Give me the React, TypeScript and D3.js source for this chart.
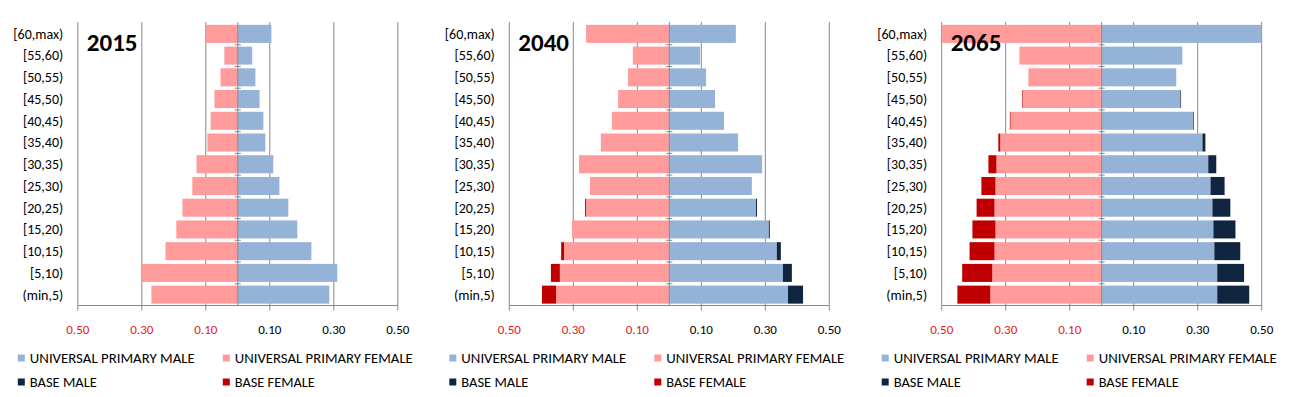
import * as d3 from 'd3'

const ageGroups = ['[60,max)', '[55,60)', '[50,55)', '[45,50)', '[40,45)', '[35,40)', '[30,35)', '[25,30)', '[20,25)', '[15,20)', '[10,15)', '[5,10)', '(min,5)']
const years = ['2015', '2040', '2065']
const xTicks = [-0.5, -0.3, -0.1, 0.1, 0.3, 0.5]

// share of population, read top row first
const upMale2015 = [0.105, 0.045, 0.055, 0.068, 0.080, 0.086, 0.111, 0.130, 0.158, 0.186, 0.230, 0.311, 0.286]
const upFemale2015 = [0.100, 0.042, 0.054, 0.073, 0.085, 0.095, 0.129, 0.142, 0.173, 0.192, 0.226, 0.301, 0.270]
const baseMale2015 = [0, 0, 0, 0, 0, 0, 0, 0, 0, 0, 0, 0, 0]
const baseFemale2015 = [0, 0, 0, 0, 0, 0, 0, 0, 0, 0, 0, 0, 0]

const upMale2040 = [0.208, 0.096, 0.115, 0.143, 0.171, 0.215, 0.290, 0.258, 0.271, 0.311, 0.336, 0.355, 0.371]
const upFemale2040 = [0.260, 0.114, 0.129, 0.160, 0.179, 0.214, 0.282, 0.248, 0.260, 0.304, 0.329, 0.342, 0.354]
const baseMale2040 = [0, 0, 0, 0, 0, 0, 0, 0, 0.003, 0.003, 0.0125, 0.028, 0.047]
const baseFemale2040 = [0, 0, 0, 0, 0, 0, 0, 0, 0.003, 0, 0.009, 0.028, 0.044]

const upMale2065 = [0.50, 0.252, 0.233, 0.246, 0.286, 0.315, 0.333, 0.340, 0.346, 0.349, 0.352, 0.361, 0.361]
const upFemale2065 = [0.50, 0.257, 0.229, 0.246, 0.285, 0.317, 0.329, 0.332, 0.335, 0.332, 0.335, 0.342, 0.348]
const baseMale2065 = [0, 0, 0, 0.002, 0.002, 0.009, 0.025, 0.044, 0.056, 0.069, 0.081, 0.084, 0.100]
const baseFemale2065 = [0, 0, 0, 0.002, 0.002, 0.006, 0.025, 0.044, 0.056, 0.072, 0.078, 0.094, 0.103]

const panels = [
  { year: years[0], upM: upMale2015, upF: upFemale2015, bM: baseMale2015, bF: baseFemale2015 },
  { year: years[1], upM: upMale2040, upF: upFemale2040, bM: baseMale2040, bF: baseFemale2040 },
  { year: years[2], upM: upMale2065, upF: upFemale2065, bM: baseMale2065, bF: baseFemale2065 },
]

const C = { upM: '#95b3d7', upF: '#ff9b9b', bM: '#10253f', bF: '#c00000', grid: '#888888' }
const FONT = 'Carlito, Calibri, Lato, sans-serif'
const legendItems = [
  { label: 'UNIVERSAL PRIMARY MALE', color: C.upM, col: 0, row: 0, len: 165 },
  { label: 'UNIVERSAL PRIMARY FEMALE', color: C.upF, col: 1, row: 0, len: 178 },
  { label: 'BASE MALE', color: C.bM, col: 0, row: 1, len: 67 },
  { label: 'BASE FEMALE', color: C.bF, col: 1, row: 1, len: 80 },
]

const PLOT_LEFT = [77.8, 509.3, 941.7]
const W = 320, TOP = 23, BOTTOM = 305.5

function Panel({ p, left, idx }: any) {
  const x = d3.scaleLinear().domain([-0.5, 0.5]).range([0, W])
  const y = d3.scaleBand().domain(ageGroups).range([TOP, BOTTOM]).paddingInner(0.17).paddingOuter(0.085)
  const rows = ageGroups.map((g, i) => ({ g, upM: p.upM[i], bM: p.bM[i], upF: p.upF[i], bF: p.bF[i] }))
  const male = d3.stack<any>().keys(['upM', 'bM'])(rows)
  const female = d3.stack<any>().keys(['upF', 'bF'])(rows)
  const clipId = `clip${idx}`
  const x0 = x(0)
  return (
    <g transform={`translate(${left},0)`}>
      <defs>
        <clipPath id={clipId}><rect x={0} y={TOP - 2} width={W} height={BOTTOM - TOP + 2} /></clipPath>
      </defs>
      {xTicks.map(t => (
        <line key={t} x1={x(t)} x2={x(t)} y1={TOP - 1} y2={BOTTOM} stroke={C.grid} strokeWidth={1} />
      ))}
      <g clipPath={`url(#${clipId})`}>
        {male.map(s => s.map((d: any, i) => (
          <rect key={s.key + i} x={x(d[0])} width={Math.max(0, x(d[1]) - x(d[0]))}
            y={y(ageGroups[i])} height={y.bandwidth()} fill={C[s.key as 'upM']} />
        )))}
        {female.map(s => s.map((d: any, i) => (
          <rect key={s.key + i} x={x(-d[1])} width={Math.max(0, x(-d[0]) - x(-d[1]))}
            y={y(ageGroups[i])} height={y.bandwidth()} fill={C[s.key as 'upF']} />
        )))}
      </g>
      <line x1={x0} x2={x0} y1={TOP - 1} y2={BOTTOM} stroke={C.grid} />
      {ageGroups.map((g, i) => i === 0 ? null : (
        <line key={g} x1={x0 - 3} x2={x0 + 3} y1={y(g)! - y.step() * 0.085} y2={y(g)! - y.step() * 0.085} stroke={C.grid} />
      ))}
      <line x1={0} x2={W} y1={BOTTOM} y2={BOTTOM} stroke={C.grid} />
      {xTicks.map(t => (
        <g key={'t' + t}>
          <line x1={x(t)} x2={x(t)} y1={BOTTOM} y2={BOTTOM + 5} stroke={C.grid} />
          <text x={x(t)} y={329} dy="0.35em" textAnchor="middle" fontSize={13} fontFamily={FONT}
            fill={t < 0 ? '#e8141e' : '#000'}>{d3.format('.2f')(Math.abs(t))}</text>
        </g>
      ))}
      {ageGroups.map(g => (
        <text key={'l' + g} x={-14.5} y={y(g)! + y.bandwidth() / 2} dy="0.35em" textAnchor="end"
          fontSize={14} fontFamily={FONT} fill="#000">{g}</text>
      ))}
      <text x={9} y={51} fontSize={25} fontWeight="bold" fontFamily={FONT} fill="#000">{p.year}</text>
      {legendItems.map(l => (
        <g key={l.label} transform={`translate(${-60 + l.col * 205},${358 + l.row * 24})`}>
          <rect x={0} y={-3.5} width={7} height={7} fill={l.color} />
          <text x={12} y={0} dy="0.35em" fontSize={15} fontFamily={FONT} fill="#000"
            textLength={l.len} lengthAdjust="spacingAndGlyphs">{l.label}</text>
        </g>
      ))}
    </g>
  )
}

export default function App() {
  return (
    <div style={{ position: 'fixed', left: 0, top: 0 }}>
      <svg width={1293} height={397} style={{ display: 'block', background: '#fff' }}>
        {panels.map((p, i) => <Panel key={p.year} p={p} left={PLOT_LEFT[i]} idx={i} />)}
      </svg>
    </div>
  )
}
